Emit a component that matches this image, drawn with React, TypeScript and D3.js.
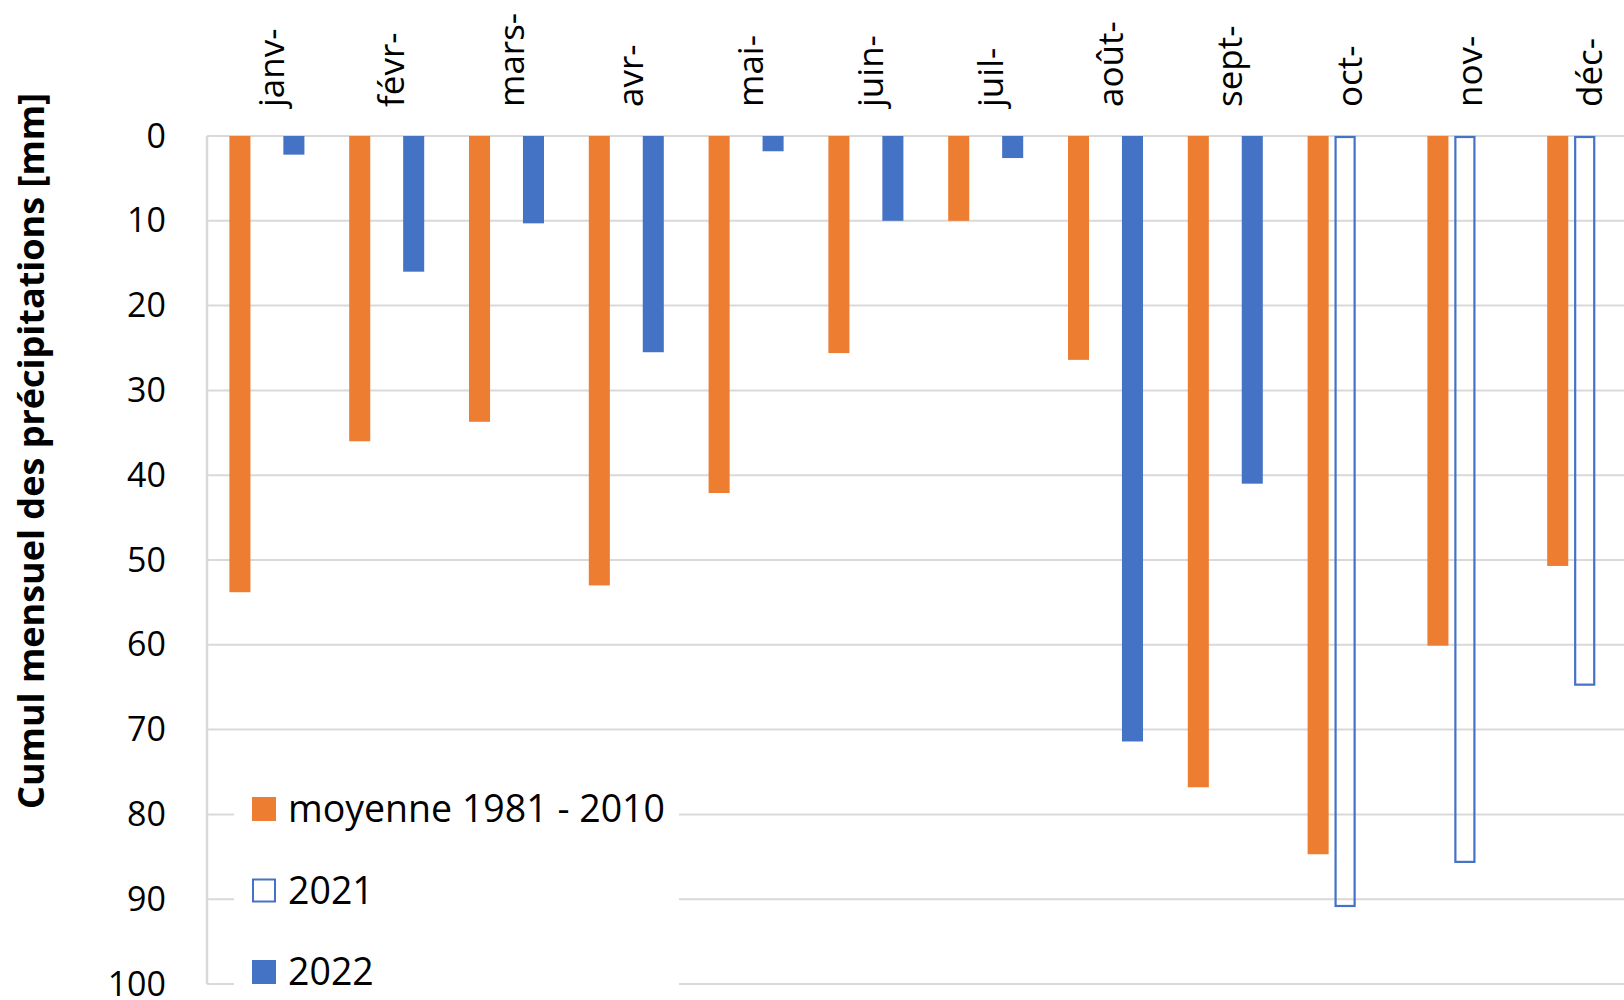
import { useEffect } from "react";
import * as d3 from "d3";

const months = ["janv-", "févr-", "mars-", "avr-", "mai-", "juin-", "juil-", "août-", "sept-", "oct-", "nov-", "déc-"];
const moyenne = [53.8, 36.0, 33.7, 53.0, 42.1, 25.6, 10.0, 26.4, 76.8, 84.7, 60.1, 50.7];
const y2021 = [null, null, null, null, null, null, null, null, null, 90.8, 85.6, 64.7];
const y2022 = [2.2, 16.0, 10.3, 25.5, 1.8, 10.0, 2.6, 71.4, 41.0, null, null, null];
const yTicks = [0, 10, 20, 30, 40, 50, 60, 70, 80, 90, 100];

const seriesNames = ["moyenne 1981 - 2010", "2021", "2022"];

const ORANGE = "#ED7D31";
const BLUE = "#4472C4";
const GRID = "#d9d9d9";
const FONT = "'Open Sans', sans-serif";

const width = 1624;
const height = 1000;
const margin = { top: 136, left: 207, bottom: 984 };

export default function App() {
  useEffect(() => {
    document.body.style.margin = "0";
  }, []);

  const x = d3.scaleBand<string>().domain(months).range([margin.left, margin.left + 12 * 119.8]);
  const xs = d3
    .scaleBand<string>()
    .domain(seriesNames)
    .range([0, x.bandwidth()])
    .paddingInner(0.22)
    .paddingOuter(0.83);
  const y = d3.scaleLinear().domain([0, 100]).range([margin.top, margin.bottom]);
  const bw = xs.bandwidth();

  const series = [
    { name: seriesNames[0], values: moyenne, fill: ORANGE, stroke: "none" },
    { name: seriesNames[1], values: y2021, fill: "none", stroke: BLUE },
    { name: seriesNames[2], values: y2022, fill: BLUE, stroke: "none" },
  ];

  const legendX = 252;
  const legendY = 809;
  const legendStep = 81.5;

  return (
    <svg width={width} height={height} style={{ display: "block", background: "#fff" }} fontFamily={FONT}>
      {/* gridlines */}
      {yTicks.map((t) => (
        <line key={t} x1={margin.left} x2={width} y1={y(t)} y2={y(t)} stroke={GRID} strokeWidth={2} />
      ))}
      <line x1={margin.left} x2={margin.left} y1={y(0)} y2={y(100)} stroke={GRID} strokeWidth={2.5} />

      {/* y tick labels */}
      {yTicks.map((t) => (
        <text key={t} x={166} y={y(t)} dy="0.34em" textAnchor="end" fontSize={34} fill="#000">
          {t}
        </text>
      ))}

      {/* y title */}
      <text
        transform="translate(44,451) rotate(-90)"
        textAnchor="middle"
        fontSize={36}
        fontWeight="bold"
        fill="#000"
      >
        Cumul mensuel des précipitations [mm]
      </text>

      {/* month labels */}
      {months.map((m) => (
        <text
          key={m}
          transform={`translate(${(x(m) ?? 0) + x.bandwidth() / 2 + 17},107) rotate(-90)`}
          textAnchor="start"
          fontSize={35}
          fill="#000"
        >
          {m}
        </text>
      ))}

      {/* bars */}
      {series.map((s) =>
        s.values.map((v, i) =>
          v == null ? null : (
            <rect
              key={s.name + i}
              x={(x(months[i]) ?? 0) + (xs(s.name) ?? 0) + (s.stroke !== "none" ? 1 : 0)}
              y={y(0) + (s.stroke !== "none" ? 1 : 0)}
              width={bw - (s.stroke !== "none" ? 2 : 0)}
              height={y(v) - y(0) - (s.stroke !== "none" ? 1 : 0)}
              fill={s.fill}
              stroke={s.stroke}
              strokeWidth={2.2}
            />
          )
        )
      )}

      {/* legend */}
      <rect x={234} y={745} width={445} height={height - 745} fill="#fff" />
      {series.map((s, i) => (
        <g key={s.name} transform={`translate(${legendX},${legendY + i * legendStep})`}>
          {s.stroke !== "none" ? (
            <rect x={1} y={-11} width={22} height={22} fill="#fff" stroke={BLUE} strokeWidth={2} />
          ) : (
            <rect x={0} y={-12} width={24} height={24} fill={s.fill} />
          )}
          <text x={36} y={13} fontSize={37.5} fill="#000">
            {s.name}
          </text>
        </g>
      ))}
    </svg>
  );
}
